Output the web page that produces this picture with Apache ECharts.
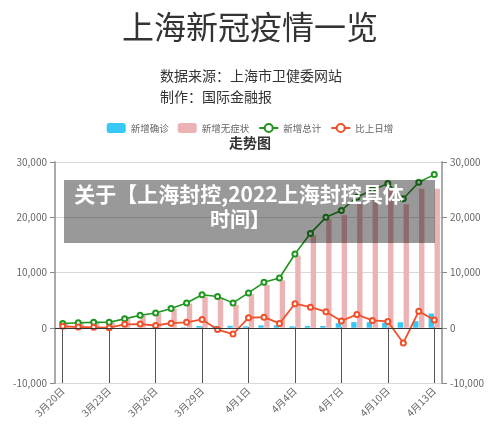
<!DOCTYPE html>
<html><head><meta charset="utf-8">
<script src="https://cdn.jsdelivr.net/npm/echarts@6/dist/echarts.min.js"></script>
<style>html,body{margin:0;padding:0;background:#fff}#c{width:500px;height:424px}</style>
</head><body><div id="c"></div>
<script>
const categories = ['3月20日','3月21日','3月22日','3月23日','3月24日','3月25日','3月26日','3月27日','3月28日','3月29日','3月30日','3月31日','4月1日','4月2日','4月3日','4月4日','4月5日','4月6日','4月7日','4月8日','4月9日','4月10日','4月11日','4月12日','4月13日'];
const confirmed = [24,31,4,4,29,38,45,50,96,326,355,358,260,438,425,268,311,322,824,1015,1006,914,994,1189,2573];
const asymptomatic = [734,865,977,979,1580,2231,2631,3450,4381,5656,5298,4144,6051,7788,8581,13086,16766,19660,20398,22609,23937,25173,22348,25141,25146];
const totals = [758,896,981,983,1609,2269,2676,3500,4477,5982,5653,4502,6311,8226,9006,13354,17077,19982,21222,23624,24943,26087,23342,26330,27719];
const dayChange = [249,138,85,2,626,660,407,824,977,1505,-329,-1151,1809,1915,780,4348,3723,2905,1240,2402,1319,1144,-2745,2988,1389];
const yTicks = [-10000, 30000, 10000];

const FONT = '"Noto Sans CJK SC","Noto Sans",sans-serif';
const chart = echarts.init(document.getElementById('c'), null, {renderer:'canvas'});
const fmt = v => v.toLocaleString('en-US');
const yAxisCommon = {
  type:'value', min:yTicks[0], max:yTicks[1], interval:yTicks[2],
  axisLine:{show:true, lineStyle:{color:'#aaa', width:2}},
  axisTick:{show:true, length:5, lineStyle:{color:'#888'}},
  axisLabel:{color:'#666', fontSize:10, fontFamily:FONT, formatter:fmt},
  splitLine:{lineStyle:{color:'#d8d8d8'}}
};
chart.setOption({
  animation:false,
  textStyle:{fontFamily:FONT},
  title:[
    {text:'上海新冠疫情一览', left:'center', top:6, textStyle:{fontSize:32, fontWeight:'normal', color:'#333', fontFamily:FONT}},
    {text:'数据来源：上海市卫健委网站\n制作：国际金融报', left:155, top:60, textStyle:{fontSize:14, lineHeight:21, fontWeight:'normal', color:'#333', fontFamily:FONT}},
    {text:'走势图', left:'center', top:131, textStyle:{fontSize:14, fontWeight:'bold', color:'#333', fontFamily:FONT}}
  ],
  legend:{
    top:118, left:'center', itemWidth:19, itemHeight:10, itemGap:9, itemStyle:{borderRadius:3},
    textStyle:{color:'#666', fontSize:9.5, fontFamily:FONT},
    data:['新增确诊','新增无症状','新增总计','比上日增']
  },
  grid:{left:55, right:58, top:162, bottom:41, containLabel:false, outerBoundsMode:'none'},
  xAxis:{
    type:'category', data:categories, position:'bottom',
    axisLine:{onZero:false, show:false},
    axisTick:{show:true, inside:true, alignWithLabel:true, interval:2, length:56, lineStyle:{color:'#555'}},
    axisLabel:{interval:2, rotate:45, margin:6, color:'#666', fontSize:10, fontFamily:FONT}
  },
  yAxis:[Object.assign({position:'left'}, yAxisCommon), Object.assign({position:'right'}, yAxisCommon)],
  series:[
    {name:'新增确诊', type:'bar', data:confirmed, itemStyle:{color:'#38c8f6'},
      markLine:{silent:true, symbol:['none','none'], label:{show:false}, lineStyle:{color:'#333', type:'solid', width:1}, data:[{yAxis:0}]}},
    {name:'新增无症状', type:'bar', data:asymptomatic, itemStyle:{color:'#ecb3b5'}},
    {name:'新增总计', type:'line', data:totals, symbol:'emptyCircle', symbolSize:5,
      lineStyle:{color:'#1f961f', width:1.6}, itemStyle:{color:'#1f961f'}},
    {name:'比上日增', type:'line', data:dayChange, symbol:'emptyCircle', symbolSize:5,
      lineStyle:{color:'#f0502a', width:1.8}, itemStyle:{color:'#f0502a'}}
  ],
  graphic:[
    {type:'rect', left:64, top:180, shape:{width:371, height:63}, style:{fill:'rgba(0,0,0,0.4)'}, z:100},
    {type:'text', x:239, y:184, style:{text:'关于【上海封控,2022上海封控具体', fill:'#fff', font:'bold 21px "Noto Sans CJK SC"', textAlign:'center'}, z:101},
    {type:'text', x:240, y:209, style:{text:'时间】', fill:'#fff', font:'bold 20px "Noto Sans CJK SC"', textAlign:'center'}, z:101}
  ]
});
</script></body></html>
